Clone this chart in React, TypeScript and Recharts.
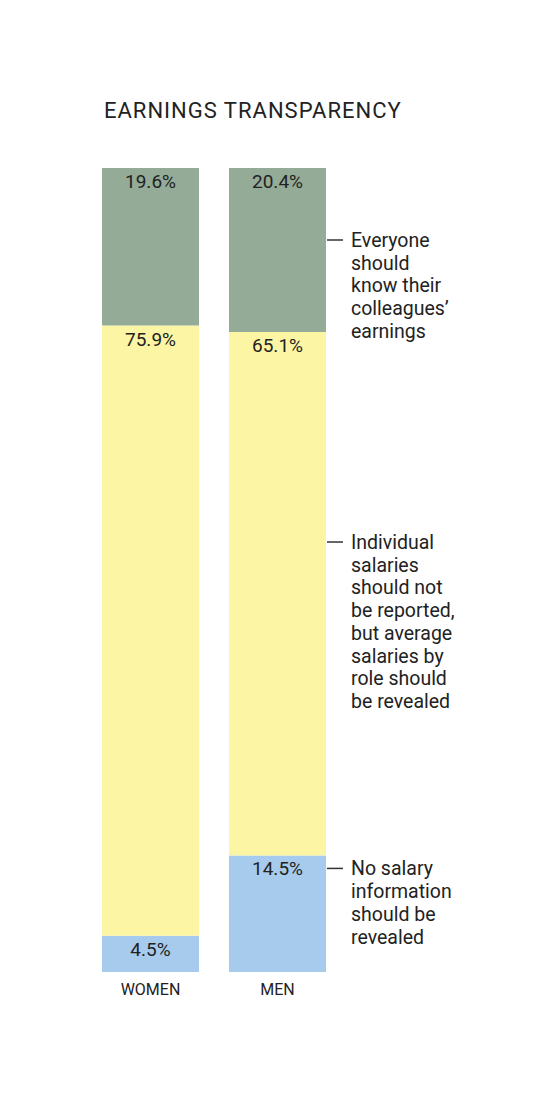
import { BarChart, Bar, XAxis, YAxis, LabelList } from "recharts";

const groups = ["WOMEN", "MEN"];
const noInfo = [4.5, 14.5];
const averageByRole = [75.9, 65.1];
const everyone = [19.6, 20.4];

const noInfoText = ["No salary", "information", "should be", "revealed"];
const averageText = [
  "Individual",
  "salaries",
  "should not",
  "be reported,",
  "but average",
  "salaries by",
  "role should",
  "be revealed",
];
const everyoneText = ["Everyone", "should", "know their", "colleagues’", "earnings"];

const data = groups.map((g, i) => ({
  group: g,
  noInfo: noInfo[i],
  averageByRole: averageByRole[i],
  everyone: everyone[i],
}));

const FONT = "Roboto, 'Noto Sans', sans-serif";

const pctLabel = (props: any) => {
  const { x, y, width, value } = props;
  return (
    <text
      x={x + width / 2}
      y={y + 20}
      textAnchor="middle"
      fontSize={19}
      fill="#222"
      fontFamily={FONT}
    >
      {value.toFixed(1)}%
    </text>
  );
};

// side note drawn next to the MEN bar only
const sideNote = (lines: string[], offset: number) => (props: any) => {
  const { x, y, width, index } = props;
  if (index !== 1) return null;
  const ly = y + offset;
  const left = x + width;
  return (
    <g>
      <line x1={left + 1} x2={left + 17} y1={ly} y2={ly} stroke="#333" strokeWidth={1.5} />
      {lines.map((t, i) => (
        <text
          key={t}
          x={left + 25}
          y={ly + 7 + i * 22.7}
          fontSize={19.5}
          fill="#222"
          fontFamily={FONT}
        >
          {t}
        </text>
      ))}
    </g>
  );
};

const groupTick = (props: any) => {
  const { x, payload } = props;
  return (
    <text x={x} y={995} textAnchor="middle" fontSize={16} fill="#222" fontFamily={FONT}>
      {payload.value}
    </text>
  );
};

export default function App() {
  return (
    <div style={{ position: "absolute", left: 0, top: 0, width: 560, height: 1100, background: "#fff" }}>
      <div
        style={{
          position: "absolute",
          left: 104,
          top: 97,
          fontFamily: FONT,
          fontSize: 22,
          lineHeight: "28px",
          letterSpacing: 1,
          color: "#222",
        }}
      >
        EARNINGS TRANSPARENCY
      </div>
      <BarChart
        width={560}
        height={1100}
        data={data}
        margin={{ top: 168, right: 219, bottom: 98, left: 87 }}
        barSize={97}
      >
        <XAxis dataKey="group" axisLine={false} tickLine={false} tick={groupTick} interval={0} />
        <YAxis hide domain={[0, 100]} />
        <Bar dataKey="noInfo" stackId="s" fill="#a6cbec" isAnimationActive={false}>
          <LabelList dataKey="noInfo" content={pctLabel} />
          <LabelList dataKey="noInfo" content={sideNote(noInfoText, 13)} />
        </Bar>
        <Bar dataKey="averageByRole" stackId="s" fill="#fbf5a4" isAnimationActive={false}>
          <LabelList dataKey="averageByRole" content={pctLabel} />
          <LabelList dataKey="averageByRole" content={sideNote(averageText, 210)} />
        </Bar>
        <Bar dataKey="everyone" stackId="s" fill="#93ab97" isAnimationActive={false}>
          <LabelList dataKey="everyone" content={pctLabel} />
          <LabelList dataKey="everyone" content={sideNote(everyoneText, 72)} />
        </Bar>
      </BarChart>
    </div>
  );
}
